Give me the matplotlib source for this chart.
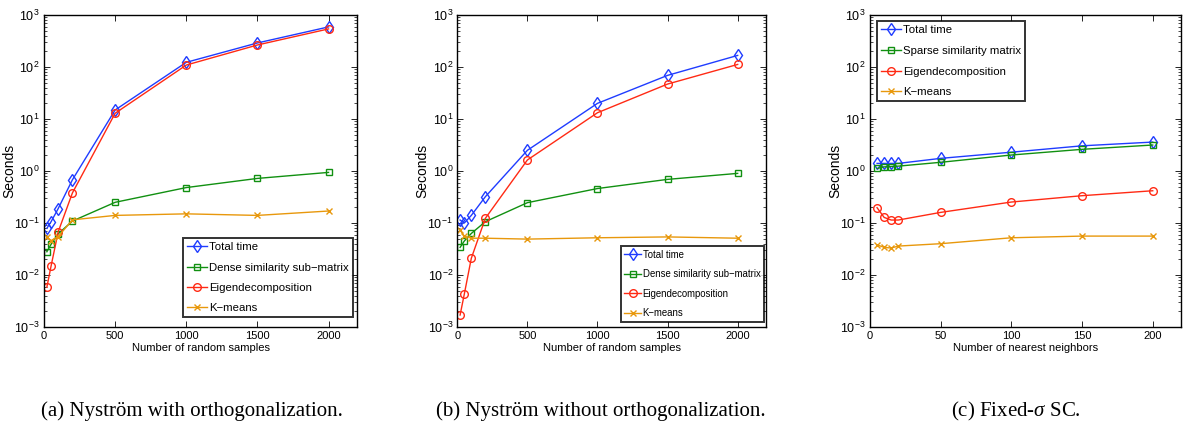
import matplotlib
matplotlib.use("Agg")
import matplotlib.pyplot as plt
from matplotlib.ticker import LogLocator, NullFormatter

# ---------------- data ----------------
samples = [20, 50, 100, 200, 500, 1000, 1500, 2000]
a_total = [0.079, 0.106, 0.19, 0.68, 14.9, 123, 290, 590]
a_dense = [0.028, 0.039, 0.062, 0.109, 0.25, 0.48, 0.72, 0.94]
a_eigen = [0.0058, 0.015, 0.068, 0.38, 12.9, 109, 265, 540]
a_kmeans = [0.053, 0.046, 0.055, 0.115, 0.14, 0.15, 0.14, 0.17]

b_total = [0.114, 0.10, 0.14, 0.32, 2.5, 20, 69, 167]
b_dense = [0.034, 0.045, 0.063, 0.106, 0.246, 0.46, 0.69, 0.90]
b_eigen = [0.0017, 0.0043, 0.021, 0.123, 1.63, 13.2, 47, 112]
b_kmeans = [0.073, 0.056, 0.051, 0.051, 0.049, 0.052, 0.054, 0.051]

neighbors = [5, 10, 15, 20, 50, 100, 150, 200]
c_total = [1.4, 1.4, 1.4, 1.4, 1.75, 2.3, 3.05, 3.6]
c_sparse = [1.12, 1.2, 1.22, 1.24, 1.47, 2.03, 2.61, 3.16]
c_eigen = [0.197, 0.128, 0.114, 0.114, 0.16, 0.253, 0.335, 0.417]
c_kmeans = [0.038, 0.034, 0.033, 0.036, 0.040, 0.052, 0.056, 0.056]

labels_ab = ["Total time", "Dense similarity sub\u2212matrix", "Eigendecomposition", "K\u2212means"]
labels_c = ["Total time", "Sparse similarity matrix", "Eigendecomposition", "K\u2212means"]
captions = ["(a) Nystr\u00f6m with orthogonalization.",
            "(b) Nystr\u00f6m without orthogonalization.",
            r"(c) Fixed-$\sigma$ SC."]
xlabels = ["Number of random samples", "Number of random samples", "Number of nearest neighbors"]

# ---------------- style ----------------
plt.rcParams['font.family'] = ['Liberation Sans', 'DejaVu Sans']
plt.rcParams['mathtext.fontset'] = 'custom'
plt.rcParams['mathtext.rm'] = 'Liberation Sans'
plt.rcParams['mathtext.it'] = 'Liberation Serif:italic'

colors = ['#1f3cff', '#119011', '#ff2a14', '#e8980c']
markers = ['d', 's', 'o', 'x']
msizes = [6.5, 4.5, 5.5, 4]

fig = plt.figure(figsize=(11.85, 4.25), dpi=100)

W, H = 1185.0, 425.0
axes_px = [(44, 357), (457.3, 765.7), (870, 1181)]
top_px, bot_px = 15, 327

panels = [
    (samples, [a_total, a_dense, a_eigen, a_kmeans], labels_ab, (0, 2200), [0, 500, 1000, 1500, 2000],
     dict(loc='lower right', bbox_to_anchor=(0.986, 0.032)), 8.2, 0.9),
    (samples, [b_total, b_dense, b_eigen, b_kmeans], labels_ab, (0, 2200), [0, 500, 1000, 1500, 2000],
     dict(loc='lower right', bbox_to_anchor=(0.994, 0.017)), 6.9, 1.0),
    (neighbors, [c_total, c_sparse, c_eigen, c_kmeans], labels_c, (0, 220), [0, 50, 100, 150, 200],
     dict(loc='upper left', bbox_to_anchor=(0.0215, 0.981)), 8.2, 0.95),
]

cap_x = [191.5, 601, 1016]

for i, (xs, series, labs, xlim, xt, legkw, lfs, lsp) in enumerate(panels):
    l, r = axes_px[i]
    ax = fig.add_axes([l / W, 1 - bot_px / H, (r - l) / W, (bot_px - top_px) / H])
    for s, lab, c, m, ms in zip(series, labs, colors, markers, msizes):
        ax.plot(xs, s, color=c, marker=m, markersize=ms, markerfacecolor='none',
                markeredgecolor=c, markeredgewidth=1.0, linewidth=1.0, label=lab)
    ax.set_yscale('log')
    ax.set_ylim(1e-3, 1e3)
    ax.set_xlim(*xlim)
    ax.set_xticks(xt)
    ax.yaxis.set_major_locator(LogLocator(base=10, numticks=10))
    ax.yaxis.set_minor_locator(LogLocator(base=10, subs=range(2, 10), numticks=100))
    ax.yaxis.set_minor_formatter(NullFormatter())
    ax.tick_params(which='both', direction='in', top=True, right=True)
    ax.tick_params(axis='x', labelsize=8, pad=3)
    ax.tick_params(axis='y', labelsize=9, pad=3)
    ax.tick_params(which='major', length=4, width=0.6)
    ax.tick_params(which='minor', length=2, width=0.5)
    for sp in ax.spines.values():
        sp.set_linewidth(1.0)
    ax.set_xlabel(xlabels[i], fontsize=8, labelpad=1)
    ax.set_ylabel("Seconds", fontsize=10)
    ax.yaxis.set_label_coords(-0.09, 0.5)
    leg = ax.legend(fontsize=lfs, frameon=True, fancybox=False, borderaxespad=0,
                    handlelength=1.8, handletextpad=0.15, borderpad=0.35, labelspacing=lsp,
                    **legkw)
    leg.get_frame().set_edgecolor('black')
    leg.get_frame().set_linewidth(1.4)
    fig.text(cap_x[i] / W, 1 - 416 / H, captions[i], ha='center', va='baseline',
             fontsize=15, family='Liberation Serif')

fig.savefig("out.png", dpi=100)
